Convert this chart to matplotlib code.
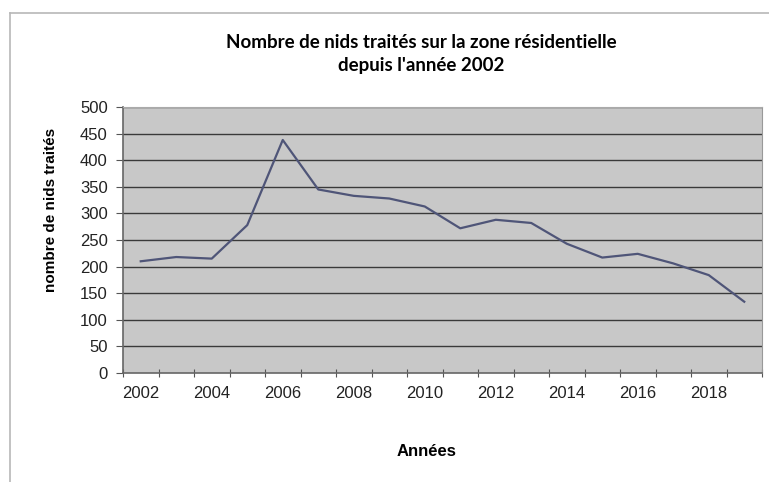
import matplotlib
matplotlib.use('Agg')
import matplotlib.pyplot as plt
from matplotlib.lines import Line2D

# nombre de nids traites par annee
years = list(range(2002, 2020))
nids = [210, 218, 215, 278, 438, 345, 333, 328, 313, 272, 288, 282, 243, 217, 224, 206, 184, 134]

y_ticks = list(range(0, 501, 50))
x_labels = list(range(2002, 2019, 2))

TITLE = "Nombre de nids traités sur la zone résidentielle\ndepuis l'année 2002"
X_AXIS = 'Années'
Y_AXIS = 'nombre de nids traités'

plt.rcParams['font.family'] = ['Liberation Sans', 'DejaVu Sans']

fig = plt.figure(figsize=(7.69, 4.82), dpi=100)
fig.patch.set_facecolor('white')

# cadre du graphique
fig.add_artist(Line2D([10 / 769, 1.0], [1 - 13 / 482, 1 - 13 / 482], color='#b8b8b8', lw=1.2))
fig.add_artist(Line2D([10 / 769, 10 / 769], [0.0, 1 - 13 / 482], color='#b8b8b8', lw=1.2))

ax = fig.add_axes([123 / 769, 1 - 373 / 482, (762 - 123) / 769, (373 - 107) / 482])
ax.set_facecolor('#c8c8c8')

# grille horizontale
for v in y_ticks[1:]:
  ax.axhline(v, color='#3a3a3a', lw=1.0, zorder=1)

ax.plot(years, nids, color='#4f5578', lw=1.6, zorder=3)

ax.set_xlim(2001.5, 2019.5)
ax.set_ylim(0, 500)

ax.set_yticks(y_ticks)
ax.set_yticklabels([str(v) for v in y_ticks], fontsize=12, color='#222222')

# graduations entre les categories, etiquettes au centre
ax.set_xticks([y - 0.5 for y in years] + [2019.5])
ax.set_xticklabels([])
ax.set_xticks(x_labels, minor=True)
ax.set_xticklabels([str(v) for v in x_labels], minor=True, fontsize=12, color='#222222')
ax.tick_params(axis='x', which='major', direction='inout', length=6, color='#555555')
ax.tick_params(axis='x', which='minor', length=0, pad=9)
ax.tick_params(axis='y', direction='out', length=5, color='#555555', pad=6)

for s in ['left', 'bottom']:
  ax.spines[s].set_color('#666666')
  ax.spines[s].set_linewidth(1.2)
ax.spines['right'].set_color('#999999')
ax.spines['top'].set_color('#aaaaaa')

fig.text(51 / 769, 1 - 210 / 482, Y_AXIS, fontsize=11, fontweight='bold',
         rotation=90, ha='center', va='center')
fig.text(427 / 769, 1 - 451 / 482, X_AXIS, fontsize=12, fontweight='bold',
         ha='center', va='center')
fig.text(421 / 769, 1 - 54 / 482, TITLE, fontsize=13.5, fontweight='bold',
         ha='center', va='center', family=['Lato', 'DejaVu Sans'], linespacing=1.45)

plt.savefig('out.png', dpi=100)
